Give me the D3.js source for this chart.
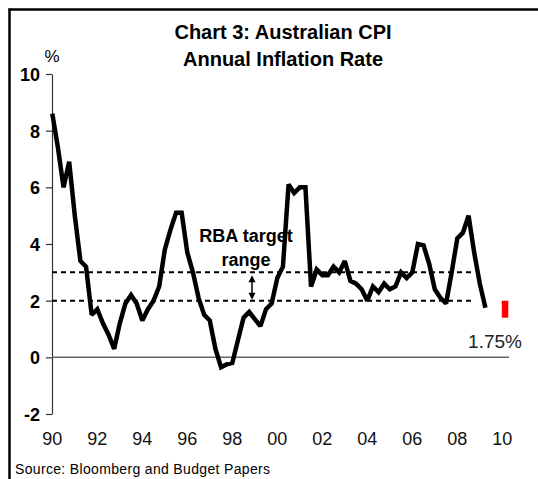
<!DOCTYPE html>
<html>
<head>
<meta charset="utf-8">
<script src="https://cdn.jsdelivr.net/npm/d3@7"></script>
<style>
  html, body { margin: 0; padding: 0; background: #fff; }
  svg { display: block; }
</style>
</head>
<body>
<svg id="chart" width="538" height="479"></svg>
<script>
// ---- data ----
const startYear = 1990;          // first quarter: 1990 Q1
const cpi = [8.6, 7.4, 6.0, 6.9, 5.0, 3.4, 3.2, 1.5, 1.7, 1.2, 0.8, 0.3,
             1.2, 1.9, 2.2, 1.9, 1.3, 1.7, 2.0, 2.5, 3.8, 4.5, 5.1, 5.1,
             3.7, 3.0, 2.1, 1.5, 1.3, 0.3, -0.35, -0.25, -0.2, 0.6, 1.4, 1.6,
             1.35, 1.1, 1.7, 1.9, 2.8, 3.2, 6.1, 5.8, 6.0, 6.0, 2.5, 3.1,
             2.9, 2.9, 3.2, 3.0, 3.4, 2.7, 2.6, 2.4, 2.0, 2.5, 2.3, 2.6,
             2.4, 2.5, 3.0, 2.8, 3.0, 4.0, 3.95, 3.3, 2.4, 2.1, 1.9, 3.0,
             4.2, 4.4, 5.0, 3.7, 2.6, 1.75];
const targetRange = [2, 3];
const forecastYear = 2010;
const forecastRange = [1.4, 2.0];
const forecastLabel = "1.75%";
const xTickYears = [1990, 1992, 1994, 1996, 1998, 2000, 2002, 2004, 2006, 2008, 2010];
const xTickLabels = ["90", "92", "94", "96", "98", "00", "02", "04", "06", "08", "10"];
const yTicks = [-2, 0, 2, 4, 6, 8, 10];
const yTickLabels = ["-2", "0", "2", "4", "6", "8", "10"];
const titleLines = ["Chart 3:  Australian CPI", "Annual Inflation Rate"];
const annotationLines = ["RBA target", "range"];
const sourceText = "Source: Bloomberg and Budget Papers";

// ---- drawing ----
const svg = d3.select("#chart");
const narrow = "'Liberation Sans Narrow', 'Arial Narrow', sans-serif";

const x = d3.scaleLinear().domain([1990, 2010]).range([52.3, 502.3]);
const y = d3.scaleLinear().domain([-2, 10]).range([414, 74]);

// frame
svg.append("line").attr("x1", 8.5).attr("x2", 538).attr("y1", 9.5).attr("y2", 9.5)
  .attr("stroke", "#000").attr("stroke-width", 2.5);
svg.append("line").attr("x1", 9.5).attr("x2", 9.5).attr("y1", 8.5).attr("y2", 479)
  .attr("stroke", "#000").attr("stroke-width", 2.5);

// title
svg.append("g").selectAll("text").data(titleLines).join("text")
  .attr("x", 283).attr("y", (d, i) => 39 + i * 27)
  .attr("text-anchor", "middle")
  .attr("font-family", narrow).attr("font-weight", "bold").attr("font-size", 20)
  .text(d => d);

// % label
svg.append("text").attr("x", 52).attr("y", 62).attr("text-anchor", "middle")
  .attr("font-family", narrow).attr("font-size", 17).text("%");

// y axis
const yAxis = svg.append("g").attr("transform", "translate(52,0)")
  .call(d3.axisLeft(y).tickValues(yTicks).tickSize(6).tickSizeOuter(0).tickPadding(6)
    .tickFormat((d, i) => yTickLabels[i]));
yAxis.select(".domain").attr("stroke", "#333").attr("stroke-width", 1.2);
yAxis.selectAll(".tick line").attr("stroke", "#333").attr("stroke-width", 1.2);
yAxis.selectAll(".tick text").attr("font-family", narrow).attr("font-weight", "bold")
  .attr("font-size", 18).attr("fill", "#000").attr("dy", "0.36em");

// zero line
svg.append("line").attr("x1", 52).attr("x2", 509).attr("y1", y(0)).attr("y2", y(0))
  .attr("stroke", "#666").attr("stroke-width", 1.5);

// x labels
svg.append("g").selectAll("text").data(xTickYears).join("text")
  .attr("x", d => x(d)).attr("y", 445).attr("text-anchor", "middle")
  .attr("font-family", narrow).attr("font-size", 18).attr("fill", "#111")
  .text((d, i) => xTickLabels[i]);

// target band dashed lines
svg.append("g").selectAll("line").data(targetRange).join("line")
  .attr("x1", 52).attr("x2", 473).attr("y1", d => y(d)).attr("y2", d => y(d))
  .attr("stroke", "#000").attr("stroke-width", 2).attr("stroke-dasharray", "5,4");

// CPI line
const line = d3.line().x((d, i) => x(startYear + i / 4)).y(d => y(d));
svg.append("path").datum(cpi).attr("d", line)
  .attr("fill", "none").attr("stroke", "#000").attr("stroke-width", 4.5)
  .attr("stroke-linejoin", "miter").attr("stroke-miterlimit", 2);

// forecast bar
svg.append("rect").attr("x", x(forecastYear) - 0.5).attr("width", 6.5)
  .attr("y", y(forecastRange[1])).attr("height", y(forecastRange[0]) - y(forecastRange[1]))
  .attr("fill", "#ff0000");
svg.append("text").attr("x", 495).attr("y", 348).attr("text-anchor", "middle")
  .attr("font-family", narrow).attr("font-size", 19).attr("fill", "#222").text(forecastLabel);

// annotation
svg.append("g").selectAll("text").data(annotationLines).join("text")
  .attr("x", 246).attr("y", (d, i) => 242 + i * 24).attr("text-anchor", "middle")
  .attr("font-family", narrow).attr("font-weight", "bold").attr("font-size", 18)
  .text(d => d);

// double arrow
const ax = 252, ay1 = y(targetRange[1]) + 3, ay2 = y(targetRange[0]) - 1;
svg.append("line").attr("x1", ax).attr("x2", ax).attr("y1", ay1 + 4).attr("y2", ay2 - 4)
  .attr("stroke", "#000").attr("stroke-width", 1.5);
svg.append("path").attr("d", `M${ax},${ay1} L${ax - 3.5},${ay1 + 7} L${ax + 3.5},${ay1 + 7} Z`).attr("fill", "#000");
svg.append("path").attr("d", `M${ax},${ay2} L${ax - 3.5},${ay2 - 7} L${ax + 3.5},${ay2 - 7} Z`).attr("fill", "#000");

// source
svg.append("text").attr("x", 15).attr("y", 474)
  .attr("font-family", "'Liberation Sans', Arial, sans-serif").attr("font-size", 14)
  .attr("textLength", 255).attr("lengthAdjust", "spacing")
  .text(sourceText);
</script>
</body>
</html>
